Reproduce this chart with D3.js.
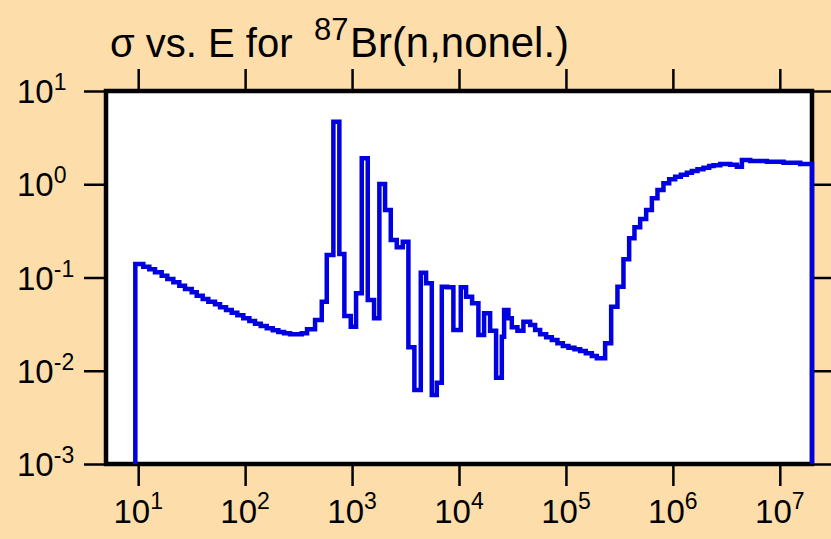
<!DOCTYPE html>
<html>
<head>
<meta charset="utf-8">
<script src="https://cdn.jsdelivr.net/npm/d3@7"></script>
<style>
  body { margin: 0; background: #fddeab; }
  svg { display: block; font-family: "Liberation Sans", Arial, sans-serif; }
</style>
</head>
<body>
<script>
// group boundaries (eV) and group cross sections (b)
let energyEdges = [9.4, 11.16, 12.70, 14.36, 16.59, 18.72, 21.30, 24.24, 27.40, 31.66,
  35.26, 40.11, 45.27, 52.29, 58.24, 66.28, 74.94, 84.53, 96.2, 109.5,
  123.8, 139.9, 159.3, 181.2, 204.5, 231.2, 263.0, 299.3, 338.4, 379.5,
  450.8, 520.8, 579.9, 668.6, 760.6, 847.2, 972, 1090, 1232, 1402,
  1606, 1800, 2036, 2301, 2619, 2981, 3363, 3826, 4392, 4922,
  5567, 6199, 6904, 7740, 8862, 10390, 11650, 13260, 15190, 17170,
  19540, 22230, 25140, 26420, 28980, 31180, 35180, 40030, 46260, 51510,
  57380, 65290, 73830, 83270, 93540, 1.055e5, 1.201e5, 1.358e5, 1.535e5, 1.747e5,
  1.945e5, 2.326e5, 2.648e5, 3.032e5, 3.451e5, 3.901e5, 4.373e5, 4.944e5, 5.626e5, 6.363e5,
  7.178e5, 8.166e5, 9.234e5, 1.051e6, 1.188e6, 1.352e6, 1.506e6, 1.699e6, 1.933e6, 2.186e6,
  2.398e6, 2.771e6, 3.436e6, 3.968e6, 4.420e6, 5.286e6, 7.574e6, 1.083e7, 1.551e7, 2.0e7];

let crossSection = [0.1396, 0.1305, 0.1224, 0.1137, 0.1045, 0.0964, 0.0888, 0.0817, 0.0753, 0.0694,
  0.0638, 0.0588, 0.0550, 0.0516, 0.0479, 0.0448, 0.0419, 0.0393, 0.0365, 0.0342,
  0.0320, 0.0302, 0.0285, 0.0272, 0.0260, 0.0252, 0.0246, 0.0246, 0.0252, 0.0278,
  0.0350, 0.0550, 0.1743, 4.687, 0.1786, 0.0387, 0.0297, 0.0677, 1.898, 0.0574,
  0.0365, 1.006, 0.5295, 0.2524, 0.2108, 0.2420, 0.01785, 0.00622, 0.1126, 0.0867,
  0.00549, 0.00744, 0.0797, 0.0785, 0.0274, 0.0785, 0.0622, 0.0529, 0.0242, 0.0413,
  0.0269, 0.00842, 0.0232, 0.0448, 0.0365, 0.0292, 0.0269, 0.0336, 0.0310, 0.0274,
  0.0246, 0.0228, 0.0214, 0.0197, 0.0184, 0.0177, 0.0170, 0.0163, 0.0154, 0.0144,
  0.0136, 0.0197, 0.0486, 0.0797, 0.1568, 0.2633, 0.3454, 0.4240, 0.5295, 0.7068,
  0.8676, 1.024, 1.130, 1.205, 1.266, 1.330, 1.387, 1.447, 1.505, 1.569,
  1.597, 1.649, 1.621, 1.543, 1.820, 1.776, 1.745, 1.702, 1.649];

let xTickExp = [1, 2, 3, 4, 5, 6, 7];
let yTickExp = [-3, -2, -1, 0, 1];

let width = 831, height = 539;
let plotLeft = 106, plotRight = 812, plotTop = 91, plotBottom = 464;

let xScale = d3.scaleLog().domain([5, 2e7]).range([plotLeft, plotRight]);
let yScale = d3.scaleLog().domain([1e-3, 10]).range([plotBottom, plotTop]);

let svg = d3.select("body").append("svg")
    .attr("width", width).attr("height", height);

svg.append("rect")
    .attr("x", plotLeft).attr("y", plotTop)
    .attr("width", plotRight - plotLeft).attr("height", plotBottom - plotTop)
    .attr("fill", "white");

// ticks on all four sides, pointing out
let xTicks = xTickExp.map(e => Math.pow(10, e));
let yTicks = yTickExp.map(e => Math.pow(10, e));

let axes = [
    [d3.axisBottom(xScale).tickValues(xTicks), `translate(0,${plotBottom})`],
    [d3.axisTop(xScale).tickValues(xTicks), `translate(0,${plotTop})`],
    [d3.axisLeft(yScale).tickValues(yTicks), `translate(${plotLeft},0)`],
    [d3.axisRight(yScale).tickValues(yTicks), `translate(${plotRight},0)`]
];
axes.forEach(function (a) {
    let g = svg.append("g").attr("transform", a[1])
        .call(a[0].tickSize(22).tickFormat(""));
    g.select(".domain").remove();
    g.selectAll(".tick line").attr("stroke", "black").attr("stroke-width", 2.5);
});

svg.append("rect")
    .attr("x", plotLeft).attr("y", plotTop)
    .attr("width", plotRight - plotLeft).attr("height", plotBottom - plotTop)
    .attr("fill", "none")
    .attr("stroke", "black")
    .attr("stroke-width", 4.5);

// tick labels as 10 with a raised exponent
svg.selectAll(".xlab")
    .data(xTickExp).enter()
    .append("text")
    .attr("class", "xlab")
    .attr("x", function (d) { return xScale(Math.pow(10, d)); })
    .attr("y", 523)
    .attr("text-anchor", "middle")
    .attr("font-size", 33)
    .each(function (d) {
        let t = d3.select(this);
        t.append("tspan").text("10");
        t.append("tspan").attr("dy", -14).attr("font-size", 23).text(d);
    });

svg.selectAll(".ylab")
    .data(yTickExp).enter()
    .append("text")
    .attr("class", "ylab")
    .attr("x", 17)
    .attr("y", function (d) { return yScale(Math.pow(10, d)) + 12; })
    .attr("font-size", 33)
    .each(function (d) {
        let t = d3.select(this);
        t.append("tspan").text("10");
        t.append("tspan").attr("dy", -13).attr("font-size", 23).text(d);
    });

// title
let title = svg.append("text")
    .attr("x", 110).attr("y", 57)
    .attr("font-size", 40);
title.append("tspan").text("\u03c3 vs. E for");
title.append("tspan").attr("x", 314).attr("dy", -17).attr("font-size", 31).text("87");
title.append("tspan").attr("x", 350).attr("dy", 17).attr("font-size", 42)
    .attr("textLength", 219).attr("lengthAdjust", "spacingAndGlyphs")
    .text("Br(n,nonel.)");

// histogram drawn as a step line, closed down to the axis at both ends
let pts = [[energyEdges[0], 1e-3]];
crossSection.forEach(function (s, i) { pts.push([energyEdges[i], s]); });
pts.push([energyEdges[energyEdges.length - 1], crossSection[crossSection.length - 1]]);
pts.push([energyEdges[energyEdges.length - 1], 1e-3]);

let line = d3.line()
    .x(function (d) { return xScale(d[0]); })
    .y(function (d) { return yScale(d[1]); })
    .curve(d3.curveStepAfter);

svg.append("path")
    .datum(pts)
    .attr("d", line)
    .attr("fill", "none")
    .attr("stroke", "#0000e0")
    .attr("stroke-width", 4.5)
    .attr("stroke-linejoin", "miter");
</script>
</body>
</html>
